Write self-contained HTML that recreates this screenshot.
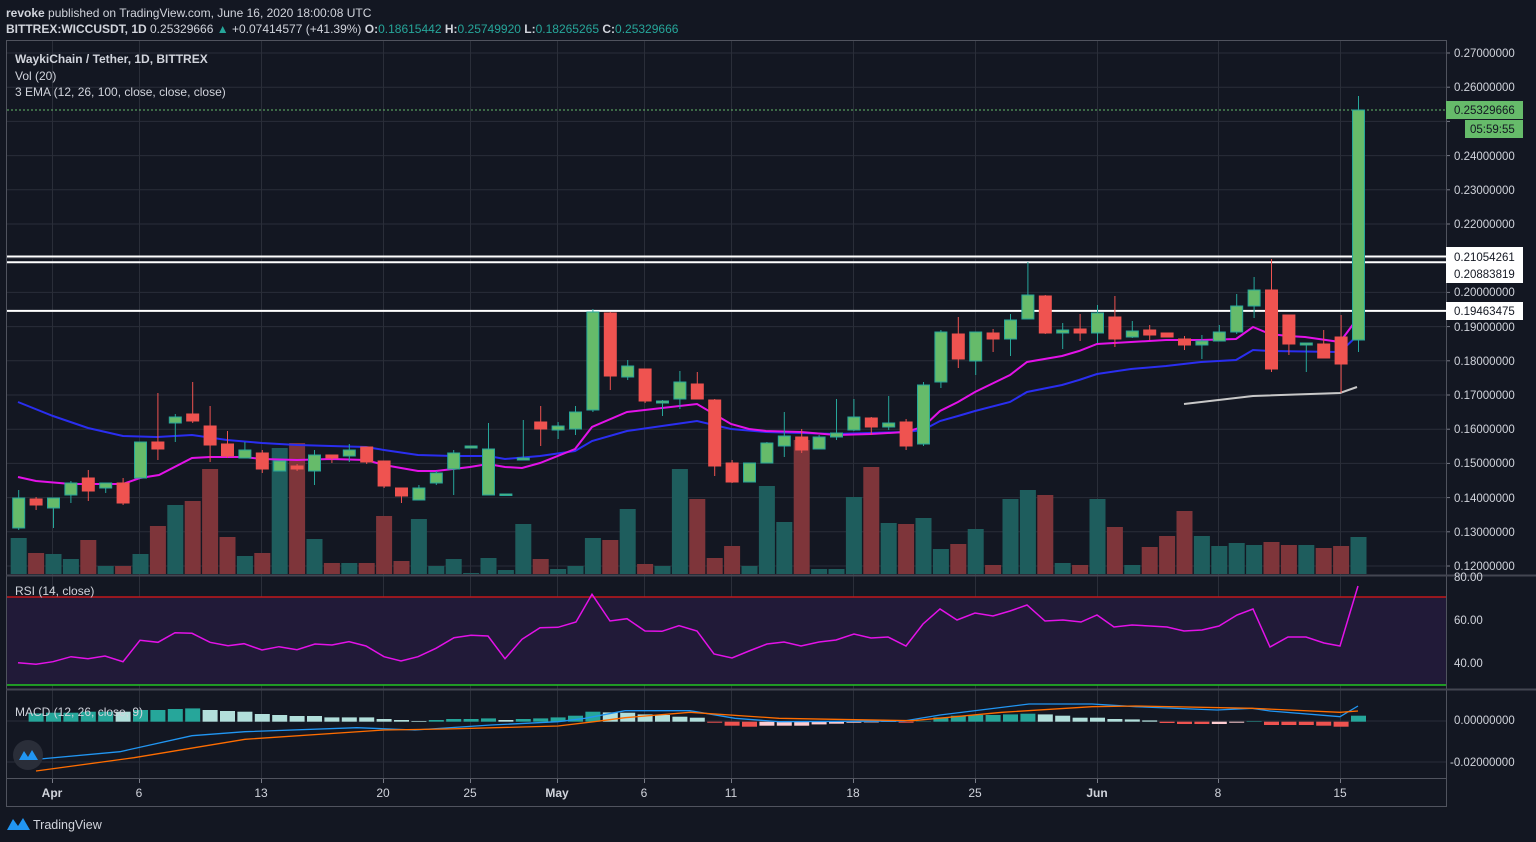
<!DOCTYPE html>
<html><head><meta charset="utf-8"><style>
html,body{margin:0;padding:0;background:#131722;}
svg{display:block;font-family:"Liberation Sans",sans-serif;}
</style></head><body>
<svg id="s" width="1536" height="842" xmlns="http://www.w3.org/2000/svg">
<rect width="1536" height="842" fill="#131722"/>
<g id="grid" stroke="#2a2e39" stroke-width="1"></g>
<!-- RSI fill -->
<rect x="7" y="597" width="1439" height="88" fill="#211a38"/>
<line x1="7" y1="597" x2="1446" y2="597" stroke="#c2181b" stroke-width="1.5"/>
<line x1="7" y1="685" x2="1446" y2="685" stroke="#22c422" stroke-width="1.5"/>
<g id="vol"></g>
<!-- horizontal levels -->
<line x1="7" y1="256.5" x2="1446" y2="256.5" stroke="#fff" stroke-width="2"/>
<line x1="7" y1="262.3" x2="1446" y2="262.3" stroke="#fff" stroke-width="2"/>
<line x1="7" y1="310.9" x2="1446" y2="310.9" stroke="#fff" stroke-width="2"/>
<line x1="7" y1="110" x2="1446" y2="110" stroke="#66bb6a" stroke-width="1" stroke-dasharray="2,2"/>
<g id="ema" fill="none" stroke-width="2"></g>
<g id="candles"></g>
<g id="macd"></g>
<!-- frame -->
<g stroke="#50535e" fill="none" stroke-width="1">
<rect x="6.5" y="40.5" width="1440" height="766"/>
<line x1="6" y1="575.5" x2="1536" y2="575.5" stroke="#434651" stroke-width="2"/>
<line x1="6" y1="689.5" x2="1536" y2="689.5" stroke="#434651" stroke-width="2"/>
<line x1="6" y1="778.5" x2="1446" y2="778.5"/>
</g>
<!-- header text -->
<g font-size="12" fill="#d1d4dc">
<text x="6" y="17"><tspan font-weight="bold">revoke</tspan> published on TradingView.com, June 16, 2020 18:00:08 UTC</text>
<text x="6" y="33"><tspan font-weight="bold">BITTREX:WICCUSDT, 1D</tspan> 0.25329666 <tspan fill="#26a69a">▲</tspan> +0.07414577 (+41.39%) <tspan font-weight="bold">O:</tspan><tspan fill="#26a69a">0.18615442</tspan> <tspan font-weight="bold">H:</tspan><tspan fill="#26a69a">0.25749920</tspan> <tspan font-weight="bold">L:</tspan><tspan fill="#26a69a">0.18265265</tspan> <tspan font-weight="bold">C:</tspan><tspan fill="#26a69a">0.25329666</tspan></text>
<text x="15" y="63" font-weight="bold">WaykiChain / Tether, 1D, BITTREX</text>
<text x="15" y="80">Vol (20)</text>
<text x="15" y="96">3 EMA (12, 26, 100, close, close, close)</text>
<text x="15" y="595">RSI (14, close)</text>
<text x="15" y="716">MACD (12, 26, close, 9)</text>
</g>
<!-- price axis -->
<g font-size="11.5" fill="#d1d4dc" id="paxis">
<text x="1454" y="57">0.27000000</text>
<text x="1454" y="91">0.26000000</text>
<text x="1454" y="160">0.24000000</text>
<text x="1454" y="194">0.23000000</text>
<text x="1454" y="228">0.22000000</text>
<text x="1454" y="296">0.20000000</text>
<text x="1454" y="331">0.19000000</text>
<text x="1454" y="365">0.18000000</text>
<text x="1454" y="399">0.17000000</text>
<text x="1454" y="433">0.16000000</text>
<text x="1454" y="467">0.15000000</text>
<text x="1454" y="502">0.14000000</text>
<text x="1454" y="536">0.13000000</text>
<text x="1454" y="570">0.12000000</text>
<rect x="1446" y="101" width="77" height="18" fill="#66bb6a"/>
<text x="1454" y="114" fill="#131722">0.25329666</text>
<rect x="1465" y="120" width="58" height="18" fill="#66bb6a"/>
<text x="1470" y="133" fill="#131722">05:59:55</text>
<rect x="1446" y="247" width="77" height="36" fill="#fff"/>
<text x="1454" y="261" fill="#131722">0.21054261</text>
<text x="1454" y="278" fill="#131722">0.20883819</text>
<rect x="1446" y="302" width="77" height="18" fill="#fff"/>
<text x="1454" y="315" fill="#131722">0.19463475</text>
<text x="1454" y="581">80.00</text>
<text x="1454" y="624">60.00</text>
<text x="1454" y="667">40.00</text>
<text x="1454" y="724">0.00000000</text>
<text x="1450" y="766">-0.02000000</text>
</g>
<!-- time axis -->
<g font-size="12" fill="#d1d4dc" text-anchor="middle">
<text x="52" y="797" font-weight="bold">Apr</text>
<text x="139" y="797">6</text>
<text x="261" y="797">13</text>
<text x="383" y="797">20</text>
<text x="470" y="797">25</text>
<text x="557" y="797" font-weight="bold">May</text>
<text x="644" y="797">6</text>
<text x="731" y="797">11</text>
<text x="853" y="797">18</text>
<text x="975" y="797">25</text>
<text x="1097" y="797" font-weight="bold">Jun</text>
<text x="1218" y="797">8</text>
<text x="1340" y="797">15</text>
</g>
<!-- logos -->
<circle cx="28" cy="755" r="15" fill="#2a2e39"/>
<path d="M19 760 L24 751 L28 757 L32 750 L38 760 Z" fill="#2196f3"/>
<path d="M7 830 L13 819 L18 826 L23 818 L30 830 Z" fill="#2196f3"/>
<text x="33" y="829" font-size="12.5" fill="#d1d4dc">TradingView</text>
</svg>
<script>
var NS="http://www.w3.org/2000/svg";
function el(p,t,a){var e=document.createElementNS(NS,t);for(var k in a)e.setAttribute(k,a[k]);document.getElementById(p).appendChild(e);return e;}
// grid
var gx=[52,139,261,383,470,557,644,731,853,975,1097,1218,1340];
gx.forEach(function(x){el("grid","line",{x1:x+.5,y1:41,x2:x+.5,y2:778});el("grid","line",{x1:x+.5,y1:778,x2:x+.5,y2:783,stroke:"#787b86"});});
for(var k=0;k<16;k++){var y=53+34.2*k;el("grid","line",{x1:7,y1:y,x2:1446,y2:y});el("grid","line",{x1:1446,y1:y,x2:1450,y2:y,stroke:"#787b86"});}
[620,663,721,762].forEach(function(y){el("grid","line",{x1:7,y1:y,x2:1446,y2:y});});
var C=[[498,528,490,530,1,538],[499,505,497,510,0,553],[498,508,498,528,1,554],[483,495,481,503,1,559],[478,491,470,501,0,540],[483,488,483,493,1,566],[483,503,478,505,0,566],[442,478,442,478,1,554],[442,449,393,460,0,526],[417,423,414,442,1,505],[414,421,382,423,0,501],[426,445,406,462,0,469],[444,456,431,458,0,537],[450,458,442,458,1,556],[453,469,450,473,0,553],[461,471,461,471,1,448],[466,469,464,471,0,443],[455,471,450,485,1,539],[455,458,455,463,0,563],[450,456,444,462,1,563],[447,462,447,464,0,563],[461,486,461,488,0,516],[488,496,488,503,0,561],[488,500,485,500,1,519],[473,483,471,485,1,566],[453,469,450,495,1,559],[446,448,446,448,1,573],[449,495,423,495,1,558],[494,495,494,495,1,570],[458,460,420,460,1,524],[422,429,406,446,0,559],[426,430,422,439,1,569],[412,429,406,435,1,566],[312,410,309,412,1,538],[313,376,312,390,0,540],[366,377,360,380,1,509],[369,401,369,403,0,564],[401,403,400,416,1,566],[382,399,371,409,1,469],[384,399,372,399,0,499],[400,466,399,476,0,558],[463,482,460,483,0,546],[463,482,463,482,1,566],[443,463,442,463,1,486],[436,446,412,457,1,522],[437,450,429,453,0,440],[437,449,435,449,1,569],[433,437,399,440,1,569],[417,430,399,431,1,497],[418,427,417,435,0,467],[423,427,396,430,1,523],[422,446,419,450,0,524],[385,444,382,446,1,518],[332,382,330,388,1,549],[334,359,317,368,0,544],[332,361,332,375,1,529],[333,339,329,352,0,565],[320,339,314,356,1,499],[295,319,262,319,1,490],[296,333,295,334,0,495],[330,333,323,349,1,563],[329,333,314,341,0,565],[313,333,305,343,1,499],[317,339,296,347,0,527],[331,337,321,338,1,565],[330,335,325,340,0,547],[333,337,333,337,0,536],[339,345,336,350,0,511],[341,345,335,359,1,536],[332,341,325,341,1,546],[306,332,294,334,1,543],[290,306,277,318,1,545],[290,369,259,372,0,542],[315,344,315,355,0,545],[343,345,343,372,1,545],[344,358,330,358,0,548],[337,364,315,393,0,546],[110,340,96,352,1,537]];
C.forEach(function(c,i){var x=18.7+17.4*i;
 el("vol","rect",{x:x-8,y:c[5],width:16,height:Math.max(1,574-c[5]),fill:c[4]?"#1e5d5d":"#7e353a"});
 var col=c[4]?"#26a69a":"#ef5350";
 el("candles","line",{x1:x,y1:c[2],x2:x,y2:c[3],stroke:col,"stroke-width":1});
 el("candles","rect",{x:x-6,y:c[0],width:12,height:Math.max(1.5,c[1]-c[0]),fill:c[4]?"#66bb6a":"#ef5350",stroke:col,"stroke-width":1});
});
function pl(g,pts,col,w){el(g,"polyline",{points:pts.map(function(p){return p.join(",")}).join(" "),stroke:col,"stroke-width":w||2,fill:"none"});}
pl("ema",[[18,402],[53,416],[88,428],[123,436],[157,437],[192,435],[227,440],[262,443],[297,445],[331,446],[366,447],[384,450],[418,455],[453,456],[488,456],[505,459],[540,456],[575,451],[592,441],[627,431],[662,426],[697,421],[731,429],[766,432],[836,434],[905,432],[923,430],[940,421],[958,416],[975,411],[1010,402],[1027,392],[1062,385],[1079,380],[1097,374],[1131,369],[1166,366],[1201,362],[1236,360],[1253,350],[1270,351],[1340,352],[1357,336]],"#2a2ef0");
pl("ema",[[18,477],[36,481],[71,484],[123,484],[140,478],[159,475],[192,458],[210,457],[244,457],[262,459],[297,460],[331,459],[366,460],[384,465],[418,471],[436,471],[453,469],[470,467],[488,464],[505,467],[522,468],[540,463],[575,449],[592,427],[627,412],[662,408],[697,404],[731,424],[749,429],[766,431],[801,432],[836,435],[871,434],[905,432],[923,427],[940,411],[958,402],[975,392],[1010,375],[1027,362],[1062,356],[1079,351],[1097,344],[1131,342],[1166,340],[1201,340],[1236,339],[1253,327],[1270,334],[1288,336],[1305,337],[1340,342],[1357,319]],"#e312e8");
pl("ema",[[1184,404],[1253,396],[1340,393],[1357,387]],"#c8c8c8");
// RSI
pl("macd",[[18,662.7],[36,664.3],[53,661.7],[71,656.7],[88,658.7],[105,656],[123,661.7],[140,640.3],[158,642.3],[175,632.7],[192,633.3],[210,642.3],[228,645.7],[244,643.7],[262,650],[279,646.7],[297,649.7],[315,644],[332,645],[349,641.7],[366,646],[384,656.7],[401,661],[418,656.7],[436,648.3],[454,637.7],[471,635.3],[488,636],[505,658.7],[522,639.3],[540,627.7],[558,627.3],[576,622],[592,594.3],[610,621],[627,618.7],[645,631],[662,631.3],[679,625.7],[697,631],[714,654],[732,658],[749,651],[767,644],[784,642],[801,646],[819,642],[836,640],[854,634],[871,638],[888,637],[906,646],[923,624],[940,609],[957,620],[975,613],[993,616],[1010,611],[1027,605],[1045,621],[1063,620],[1081,622],[1097,615],[1114,627],[1132,625],[1150,626],[1167,627],[1184,631],[1202,630],[1219,626],[1237,615],[1253,609],[1270,647],[1288,637],[1306,637],[1324,643],[1340,646],[1358,586]],"#e312e8",1.5);
// MACD histogram
var H=[0,8.3,9,9,10,10,-10,11.7,11.7,12.7,13.3,-11.7,-10.7,-10,-7.7,-6.7,-5.7,-5.7,-4.3,-4.3,-4.3,-2.7,-1.7,-0.7,1.7,2.7,2.7,3.3,-1.7,2.7,3.3,4.3,6,10,-9.3,-9,-7.3,-6.7,-5,-4];
var HN=[["R",1],["R",4],["R",5],["P",4],["P",4],["P",4],["P",2.7],["P",2],["P",1],["P",0.7],["P",0.3],["R",1],["T",0.3],["T",4.3],["T",6],["T",6.7],["T",6.7],["T",7.3],["T",8],["L",7.3],["L",6],["L",4],["L",4],["L",2.7],["L",2.3],["L",1.3],["R",1.3],["R",2.3],["R",2.3],["P",2.3],["P",1],["T",0.5],["R",3.3],["R",3.3],["R",3.3],["R",4],["R",5],["T",6]];
var base=721.7;
H.forEach(function(h,i){if(i==0)return;var x=18.7+17.4*i;var a=Math.abs(h);el("macd","rect",{x:x-7.5,y:base-a,width:15,height:a,fill:h>0?"#26a69a":"#b2dfdb"});});
HN.forEach(function(d,j){var i=40+j;var x=18.7+17.4*i;var t=d[0],a=d[1];var col={R:"#ef5350",P:"#ffcdd2",T:"#26a69a",L:"#b2dfdb"}[t];
 if(t=="T"||t=="L")el("macd","rect",{x:x-7.5,y:base-a,width:15,height:a,fill:col});else el("macd","rect",{x:x-7.5,y:base,width:15,height:a,fill:col});});
pl("macd",[[18,762],[40,759],[120,751.7],[192,735.7],[245,731.7],[357,727.7],[415,730],[491,725],[558,721.7],[585,718.3],[625,710.7],[690,710.7],[735,718.3],[779,721.7],[904,721],[940,715],[1029,704],[1092,704],[1136,706.7],[1217,710],[1252,708.3],[1270,711],[1340,716.7],[1358,706]],"#2196f3",1.3);
pl("macd",[[36,771],[134,757.7],[245,739.3],[384,730],[446,729],[558,726],[594,721.7],[625,717.7],[690,712.3],[779,718.3],[913,720.7],[1002,712.3],[1092,706.7],[1136,706],[1252,708.3],[1340,712.3],[1358,711]],"#ff6d00",1.3);
</script>
</body></html>
